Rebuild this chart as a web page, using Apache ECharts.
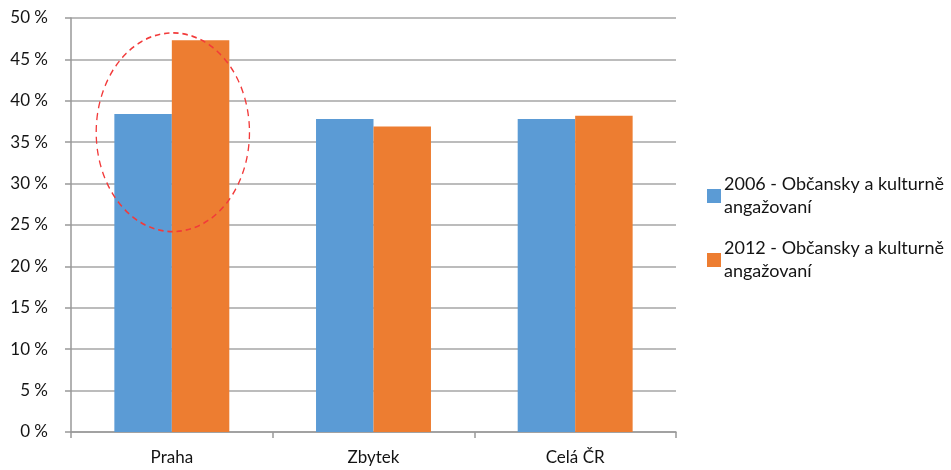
<!DOCTYPE html>
<html><head><meta charset="utf-8">
<script src="https://cdn.jsdelivr.net/npm/echarts@6/dist/echarts.min.js"></script>
<style>html,body{margin:0;padding:0;background:#fff}#c{width:951px;height:470px}</style>
</head><body><div id="c"></div>
<script>
const categories = ['Praha', 'Zbytek', 'Celá ČR'];
const seriesNames = ['2006 - Občansky a kulturně angažovaní', '2012 - Občansky a kulturně angažovaní'];
const values2006 = [38.4, 37.8, 37.8];
const values2012 = [47.3, 36.9, 38.2];
const highlight = { category: 'Praha', centerValue: 36.2, radiusValue: 12 };

(function () {
const chart = echarts.init(document.getElementById('c'));
const font = 'Lato, "Open Sans", sans-serif';
const textColor = '#141414';
const legendText = { fontFamily: font, fontSize: 18, color: textColor, lineHeight: 23, padding: [23, 0, 0, -2] };
function legendAt(name, centerY) {
  return {
    orient: 'vertical', left: 702, top: centerY - 34.5 - 5, icon: 'rect', itemWidth: 14, itemHeight: 14,
    data: [name], formatter: n => n.replace(' angažovaní', '\nangažovaní'), textStyle: legendText
  };
}
chart.setOption({
  animation: false,
  grid: { left: 71, right: 275, top: 18, bottom: 38 },
  legend: [legendAt(seriesNames[0], 196), legendAt(seriesNames[1], 260)],
  xAxis: {
    type: 'category', data: categories,
    axisLine: { lineStyle: { color: '#999', width: 1.5 } },
    axisTick: { show: true, length: 6, lineStyle: { color: '#999', width: 1.5 } },
    axisLabel: { fontFamily: font, fontSize: 17, color: textColor, margin: 17 }
  },
  yAxis: {
    type: 'value', min: 0, max: 50, interval: 5,
    axisLine: { show: true, lineStyle: { color: '#999', width: 1.5 } },
    axisTick: { show: true, length: 6, lineStyle: { color: '#999', width: 1.5 } },
    axisLabel: { fontFamily: font, fontSize: 17, color: textColor, margin: 23, formatter: v => v + ' %' },
    splitLine: { lineStyle: { color: '#a6a6a6', width: 1.5 } }
  },
  series: [
    { type: 'bar', name: seriesNames[0], data: values2006, itemStyle: { color: '#5b9bd5' }, barGap: '0%', barCategoryGap: '43%' },
    { type: 'bar', name: seriesNames[1], data: values2012, itemStyle: { color: '#ed7d31' }, barGap: '0%', barCategoryGap: '43%' }
  ]
});

const c = chart.convertToPixel({ gridIndex: 0 }, [highlight.category, highlight.centerValue]);
const t = chart.convertToPixel({ gridIndex: 0 }, [highlight.category, highlight.centerValue + highlight.radiusValue]);
const p0 = chart.convertToPixel({ xAxisIndex: 0 }, categories[0]);
const p1 = chart.convertToPixel({ xAxisIndex: 0 }, categories[1]);
const ry = c[1] - t[1];
const rx = (p1 - p0) * 0.38;
chart.setOption({
  graphic: [{
    type: 'circle', x: c[0] + 1, y: c[1], scaleX: rx / ry, scaleY: 1, z: 100, zlevel: 0,
    shape: { cx: 0, cy: 0, r: ry },
    style: { fill: 'none', stroke: '#f23a3a', lineWidth: 1.7, lineDash: [7, 5] }, silent: true
  }]
});
})();
</script></body></html>
